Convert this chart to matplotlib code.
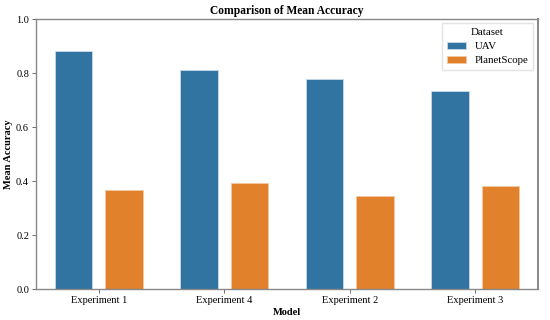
import matplotlib
matplotlib.use("Agg")
import matplotlib.pyplot as plt
import numpy as np

models = ["Experiment 1", "Experiment 4", "Experiment 2", "Experiment 3"]
uav = [0.884, 0.812, 0.779, 0.733]
planetscope = [0.369, 0.395, 0.346, 0.383]
series_names = ["UAV", "PlanetScope"]
colors = ["#3274a1", "#e1812c"]

plt.rcParams['font.family'] = ['Liberation Serif', 'DejaVu Serif']

fig = plt.figure(figsize=(5.5, 3.2), dpi=100)
ax = fig.add_axes([36/550, 1 - 289.3/320, 502/550, 270/320])

x = np.arange(len(models))
w = 0.3
ax.bar(x - 0.2, uav, w, color=colors[0], edgecolor="#c8d9e8", linewidth=0.6, label=series_names[0])
ax.bar(x + 0.2, planetscope, w, color=colors[1], edgecolor="#f3c9a3", linewidth=0.6, label=series_names[1])

ax.set_xlim(-0.5, 3.5)
ax.set_ylim(0, 1.0)
ax.set_xticks(x)
ax.set_xticklabels(models, fontsize=7.5)
ax.set_yticks([0, 0.2, 0.4, 0.6, 0.8, 1.0])
ax.set_yticklabels(["0.0", "0.2", "0.4", "0.6", "0.8", "1.0"], fontsize=7.5)
ax.tick_params(length=3, width=0.6, color="#555555", pad=2)
for s in ax.spines.values():
    s.set_color("#888888")
    s.set_linewidth(1.0)
ax.spines["right"].set_linewidth(1.4)

ax.set_title("Comparison of Mean Accuracy", fontsize=8.3, fontweight="bold", pad=4)
ax.set_xlabel("Model", fontsize=7.5, fontweight="bold", labelpad=2)
ax.set_ylabel("Mean Accuracy", fontsize=7.5, fontweight="bold")
ax.yaxis.set_label_coords(-0.046, 0.5)

leg = ax.legend(title="Dataset", fontsize=7.8, title_fontsize=7.8, loc="upper right",
                frameon=True, fancybox=False, edgecolor="#dddddd",
                handlelength=1.8, handleheight=0.6, handletextpad=0.75,
                borderpad=0.45, labelspacing=0.45, borderaxespad=0,
                bbox_to_anchor=(0.990, 0.986))

fig.savefig("out.png", dpi=100)
